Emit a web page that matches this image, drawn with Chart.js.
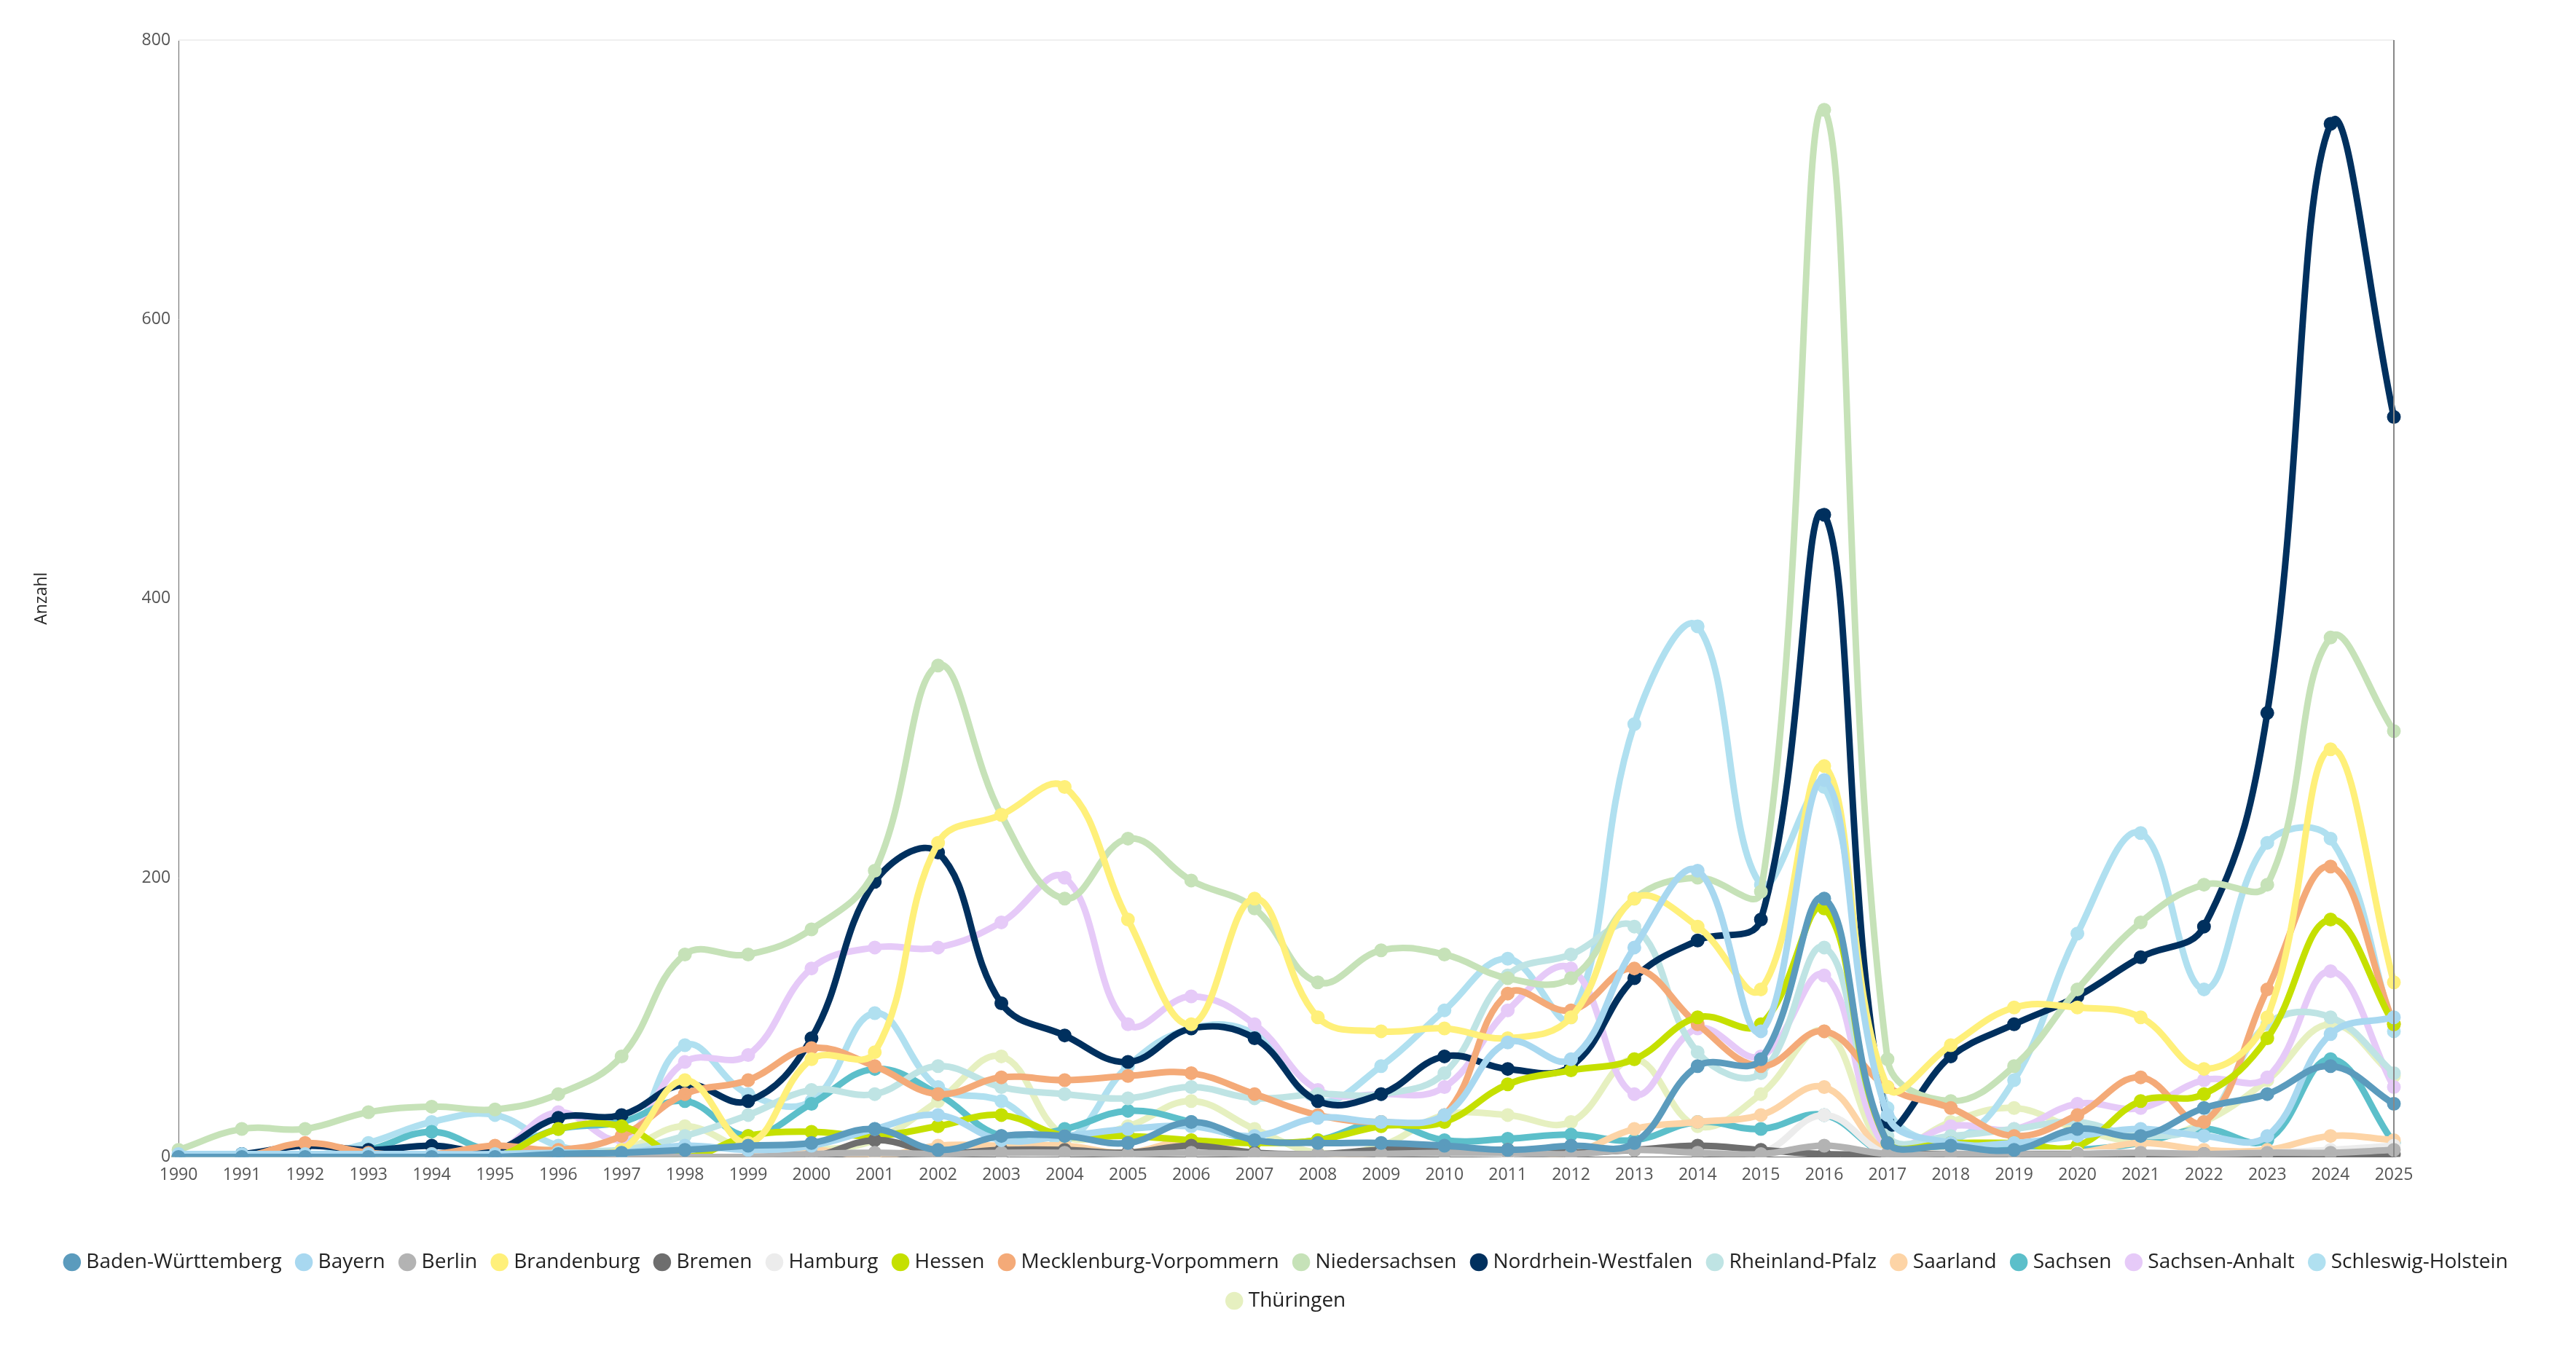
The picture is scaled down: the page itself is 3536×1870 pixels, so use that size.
<!DOCTYPE html>
<html><head><meta charset="utf-8">
<script src="https://cdn.jsdelivr.net/npm/chart.js@4/dist/chart.umd.min.js"></script>
<style>html,body{margin:0;background:#fff}#wrap{width:3536px;height:1870px}</style>
</head><body><div id="wrap"><canvas id="c"></canvas></div>
<script>
const years = [];
for (let y = 1990; y <= 2025; y++) years.push(String(y));
const yTicks = [0, 200, 400, 600, 800];

const baden = [0,0,0,0,0,0,2,3,5,8,10,20,5,15,15,10,25,12,10,10,8,5,8,10,65,70,185,10,8,5,20,15,35,45,65,38];
const bayern = [2,2,2,2,2,2,3,3,8,5,8,20,30,12,15,20,22,15,28,25,30,82,70,150,205,90,270,30,10,10,15,20,15,15,88,100];
const berlin = [0,0,0,0,0,0,0,0,0,0,2,3,2,3,3,2,3,2,2,2,3,3,2,5,3,2,8,2,2,2,2,3,2,3,3,5];
const brandenburg = [0,0,0,0,0,0,3,5,55,10,70,75,225,245,265,170,95,185,100,90,92,85,100,185,165,120,280,50,80,107,107,100,63,100,292,125];
const bremen = [0,0,0,0,0,0,0,0,0,0,0,12,3,5,5,3,8,3,2,5,5,5,3,5,8,5,2,2,2,2,2,2,2,2,2,2];
const hamburg = [0,0,0,0,0,0,0,0,0,0,2,3,2,3,3,2,3,2,2,3,3,2,3,5,8,3,30,2,3,3,3,3,2,3,5,8];
const hessen = [0,0,0,0,0,0,20,22,0,15,18,15,22,30,15,15,12,10,12,22,25,52,62,70,100,95,178,10,10,10,8,40,45,85,170,95];
const meckpomm = [0,0,10,3,2,8,5,15,45,55,78,65,45,57,55,58,60,45,30,25,30,117,105,135,95,65,90,50,35,15,30,57,25,120,208,95];
const niedersachsen = [5,20,20,32,36,34,45,72,145,145,163,205,352,245,185,228,198,178,125,148,145,128,128,185,200,190,750,70,40,65,120,168,195,195,372,305];
const nrw = [0,2,8,5,8,5,28,30,52,40,85,197,218,110,87,68,92,85,40,45,72,63,65,128,155,170,460,25,72,95,115,143,165,318,740,530];
const rlp = [0,0,0,0,0,3,5,5,15,30,48,45,65,50,45,42,50,42,45,45,60,130,145,165,75,60,150,15,15,20,25,15,25,95,100,60];
const saarland = [0,0,0,0,0,0,0,0,0,0,5,0,8,8,8,3,12,2,0,3,5,5,3,20,25,30,50,3,3,3,3,10,5,5,15,12];
const sachsen = [0,2,0,5,18,5,20,25,40,15,38,63,45,15,20,33,25,12,12,25,12,13,16,12,25,20,30,2,5,5,5,10,20,12,70,10];
const sachsenAnhalt = [0,0,0,0,0,3,32,13,68,73,135,150,150,168,200,95,115,95,48,45,50,105,135,45,92,72,130,5,22,20,38,35,55,57,133,50];
const schleswig = [0,0,0,10,25,30,8,5,80,45,40,103,50,40,12,65,92,88,40,65,105,142,100,310,380,195,265,35,12,55,160,232,120,225,228,90];
const thueringen = [0,0,0,0,0,5,5,5,22,5,5,12,40,72,15,22,40,20,3,8,30,30,25,70,22,45,90,5,25,35,20,12,25,55,95,58];

const series = [
  ['Baden-Württemberg', baden, '#5b9bbd'],
  ['Bayern', bayern, '#a8d8f0'],
  ['Berlin', berlin, '#b3b3b3'],
  ['Brandenburg', brandenburg, '#fff07a'],
  ['Bremen', bremen, '#6e6e6e'],
  ['Hamburg', hamburg, '#ececec'],
  ['Hessen', hessen, '#c5e000'],
  ['Mecklenburg-Vorpommern', meckpomm, '#f4aa78'],
  ['Niedersachsen', niedersachsen, '#c6e2b8'],
  ['Nordrhein-Westfalen', nrw, '#00305e'],
  ['Rheinland-Pfalz', rlp, '#bfe4e4'],
  ['Saarland', saarland, '#fdd4a6'],
  ['Sachsen', sachsen, '#5cbfca'],
  ['Sachsen-Anhalt', sachsenAnhalt, '#e6caf8'],
  ['Schleswig-Holstein', schleswig, '#b0e0f0'],
  ['Thüringen', thueringen, '#e6f0c0']
];

const font = 'Segoe UI, "Open Sans", "Noto Sans", sans-serif';
new Chart(document.getElementById('c'), {
  type: 'line',
  data: {
    labels: years,
    datasets: series.map(s => ({
      label: s[0], data: s[1], borderColor: s[2], backgroundColor: s[2],
      borderWidth: 9, pointRadius: 5, pointHoverRadius: 6, tension: 0.4, fill: false
    }))
  },
  options: {
    responsive: true, maintainAspectRatio: false, animation: false,
    devicePixelRatio: 1,
    layout: { padding: { left: 40, right: 40, top: 55, bottom: 60 } },
    plugins: {
      legend: {
        position: 'bottom',
        labels: { usePointStyle: true, pointStyle: 'circle', boxWidth: 11, boxHeight: 11, padding: 25,
          color: '#222', font: { family: font, size: 28 } }
      },
      tooltip: { enabled: false }
    },
    scales: {
      x: {
        grid: { display: false, drawTicks: true },
        border: { color: '#666' },
        afterFit: a => { a.height += 64; },
        ticks: { color: '#555', font: { family: font, size: 23 }, maxRotation: 0, autoSkip: false }
      },
      y: {
        min: 0, max: 800,
        afterBuildTicks: a => { a.ticks = yTicks.map(v => ({ value: v })); },
        grid: { display: false },
        border: { color: '#666' },
        ticks: { color: '#555', font: { family: font, size: 23 } },
        title: { display: true, text: 'Anzahl', color: '#222', font: { family: font, size: 23 }, padding: { bottom: 120 } }
      },
      spacer: {
        type: 'linear', position: 'right', display: true,
        grid: { display: false }, border: { display: false }, ticks: { display: false },
        afterFit: a => { a.width = 210; }
      }
    }
  },
  plugins: [{
    id: 'edges',
    afterDraw(c) {
      const a = c.chartArea, x = c.ctx;
      x.save();
      x.strokeStyle = '#f0f0f0'; x.lineWidth = 2;
      x.beginPath(); x.moveTo(a.left, a.top); x.lineTo(a.right, a.top); x.stroke();
      x.strokeStyle = '#888'; x.lineWidth = 2;
      x.beginPath(); x.moveTo(a.right, a.top); x.lineTo(a.right, a.bottom); x.stroke();
      x.restore();
    }
  }]
});
</script></body></html>
